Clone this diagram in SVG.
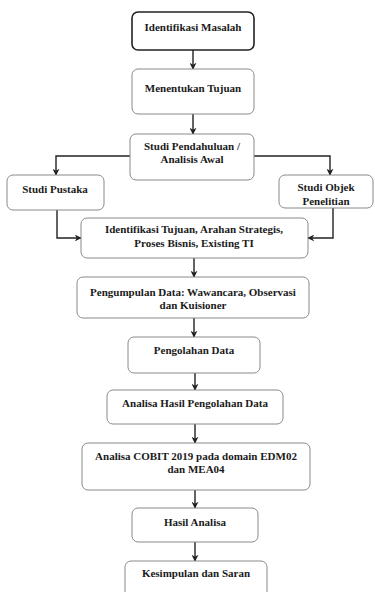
<svg xmlns="http://www.w3.org/2000/svg" width="375" height="592" viewBox="0 0 375 592">
<style>
.bx{fill:#fff;stroke:#8a8a8a;stroke-width:1}
.bx1{fill:#fff;stroke:#222;stroke-width:1.6}
.t{font-family:'Liberation Serif','Times New Roman',serif;font-weight:bold;font-size:11px;fill:#1a1a1a;text-anchor:middle}
.c{fill:none;stroke:#222;stroke-width:1.4}
</style>
<defs>
<marker id="ah" viewBox="0 0 10 10" refX="9" refY="5" markerWidth="7" markerHeight="7" orient="auto" markerUnits="userSpaceOnUse">
<path d="M0,0 L10,5 L0,10 L3,5 Z" fill="#222"/>
</marker>
</defs>
<rect width="375" height="592" fill="#fff"/>
<g id="connectors">
<path class="c" d="M193,50 V69" marker-end="url(#ah)"/>
<path class="c" d="M193,114 V134" marker-end="url(#ah)"/>
<path class="c" d="M130,156 H56 V175" marker-end="url(#ah)"/>
<path class="c" d="M254,156 H330 V175" marker-end="url(#ah)"/>
<path class="c" d="M57,210 V238 H81" marker-end="url(#ah)"/>
<path class="c" d="M333,208 V238 H308" marker-end="url(#ah)"/>
<path class="c" d="M194,258 V277" marker-end="url(#ah)"/>
<path class="c" d="M194,318 V337" marker-end="url(#ah)"/>
<path class="c" d="M195,373 V390" marker-end="url(#ah)"/>
<path class="c" d="M195,424 V443" marker-end="url(#ah)"/>
<path class="c" d="M195,490 V508" marker-end="url(#ah)"/>
<path class="c" d="M195,542 V561" marker-end="url(#ah)"/>
</g>
<g id="n1"><rect class="bx1" x="132" y="12" width="122" height="38" rx="6"/><text class="t" x="193" y="31" font-family="Liberation Serif">Identifikasi Masalah</text></g>
<g id="n2"><rect class="bx" x="132" y="69" width="122" height="45" rx="6"/><text class="t" x="193" y="92">Menentukan Tujuan</text></g>
<g id="n3"><rect class="bx" x="130" y="134" width="124" height="46" rx="6"/><text class="t" x="192" y="150">Studi Pendahuluan /</text><text class="t" x="192" y="163">Analisis Awal</text></g>
<g id="n4"><rect class="bx" x="7" y="175" width="97" height="35" rx="6"/><text class="t" x="55" y="193">Studi Pustaka</text></g>
<g id="n5"><rect class="bx" x="279" y="175" width="94" height="33" rx="6"/><text class="t" x="326" y="191">Studi Objek</text><text class="t" x="326" y="205">Penelitian</text></g>
<g id="n6"><rect class="bx" x="81" y="218" width="227" height="40" rx="6"/><text class="t" x="194" y="233">Identifikasi Tujuan, Arahan Strategis,</text><text class="t" x="194" y="247">Proses Bisnis, Existing TI</text></g>
<g id="n7"><rect class="bx" x="77" y="277" width="232" height="41" rx="6"/><text class="t" x="193" y="296">Pengumpulan Data: Wawancara, Observasi</text><text class="t" x="193" y="309">dan Kuisioner</text></g>
<g id="n8"><rect class="bx" x="128" y="337" width="132" height="36" rx="6"/><text class="t" x="194" y="354">Pengolahan Data</text></g>
<g id="n9"><rect class="bx" x="107" y="390" width="176" height="34" rx="6"/><text class="t" x="195" y="407">Analisa Hasil Pengolahan Data</text></g>
<g id="n10"><rect class="bx" x="82" y="443" width="228" height="47" rx="6"/><text class="t" x="196" y="460">Analisa COBIT 2019 pada domain EDM02</text><text class="t" x="196" y="473">dan MEA04</text></g>
<g id="n11"><rect class="bx" x="132" y="508" width="126" height="34" rx="6"/><text class="t" x="195" y="526">Hasil Analisa</text></g>
<g id="n12"><rect class="bx" x="125" y="561" width="142" height="40" rx="6"/><text class="t" x="196" y="577">Kesimpulan dan Saran</text></g>
</svg>
